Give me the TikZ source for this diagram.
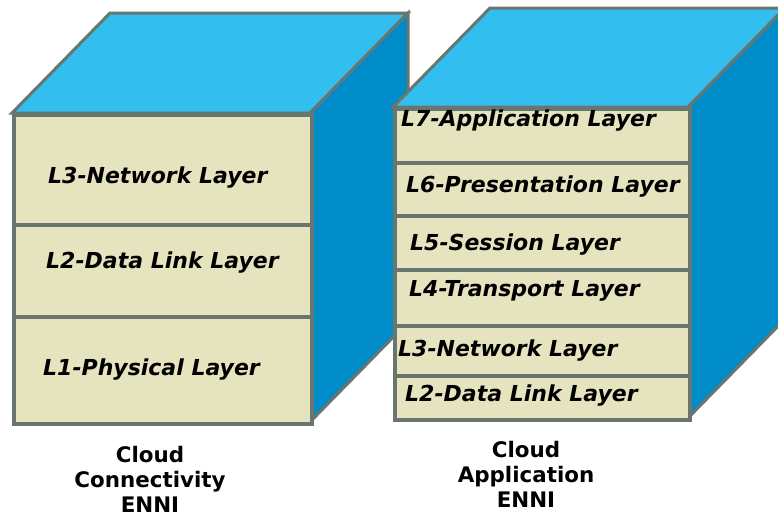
\documentclass[tikz,border=0pt]{standalone}
\usepackage{fontspec}
\setmainfont{DejaVu Sans}
\usetikzlibrary{positioning}
\definecolor{topblue}{RGB}{51,190,240}
\definecolor{sideblue}{RGB}{0,140,200}
\definecolor{layerfill}{RGB}{230,228,190}
\definecolor{edgegray}{RGB}{105,118,112}
\tikzstyle{face} = [draw=edgegray,
line width=3pt,
line join=miter]
\tikzstyle{layer} = [rectangle,
anchor=north west,
draw=edgegray,
line width=3.5pt,
fill=layerfill]
\tikzstyle{ltext} = [anchor=west,
inner sep=0pt,
font=\fontsize{22}{24}\selectfont\bfseries\itshape]
\tikzstyle{caption} = [align=center,
inner sep=0pt,
font=\fontsize{21.4}{25}\selectfont\bfseries]

\begin{document}
\begin{tikzpicture}[x=1pt, y=-1pt]
\useasboundingbox (0,0) rectangle (778,517);

% left cube
\draw [face, fill=topblue] (12,113) -- (110,13) -- (408,13) -- (310,113) -- cycle;
\draw [face, fill=sideblue] (310,113) -- (408,13) -- (408,322) -- (310,422) -- cycle;

\node (cc_l3) [layer, minimum width=298pt, minimum height=110pt] at (12,113) {};
\node (cc_l2) [layer, minimum width=298pt, minimum height=92pt] at (12,223) {};
\node (cc_l1) [layer, minimum width=298pt, minimum height=107pt] at (12,315) {};

\node (cc_l3_txt) [ltext] at (48,178) {L3-Network Layer};
\node (cc_l2_txt) [ltext] at (46,263) {L2-Data Link Layer};
\node (cc_l1_txt) [ltext] at (43,370) {L1-Physical Layer};

% right cube
\draw [face, fill=topblue] (393,107) -- (490,8) -- (785,8) -- (688,107) -- cycle;
\draw [face, fill=sideblue] (688,107) -- (785,8) -- (785,319) -- (688,418) -- cycle;

\node (ca_l7) [layer, minimum width=295pt, minimum height=54pt] at (393,107) {};
\node (ca_l6) [layer, minimum width=295pt, minimum height=53pt] at (393,161) {};
\node (ca_l5) [layer, minimum width=295pt, minimum height=54pt] at (393,214) {};
\node (ca_l4) [layer, minimum width=295pt, minimum height=56pt] at (393,268) {};
\node (ca_l3) [layer, minimum width=295pt, minimum height=50pt] at (393,324) {};
\node (ca_l2) [layer, minimum width=295pt, minimum height=44pt] at (393,374) {};

\node (ca_l7_txt) [ltext] at (401,121) {L7-Application Layer};
\node (ca_l6_txt) [ltext] at (406,187) {L6-Presentation Layer};
\node (ca_l5_txt) [ltext] at (410,245) {L5-Session Layer};
\node (ca_l4_txt) [ltext] at (409,291) {L4-Transport Layer};
\node (ca_l3_txt) [ltext] at (398,351) {L3-Network Layer};
\node (ca_l2_txt) [ltext] at (405,396) {L2-Data Link Layer};

% captions
\node (cc_name) [caption] at (150,479) {Cloud\\Connectivity\\ENNI};
\node (ca_name) [caption] at (526,474) {Cloud\\Application\\ENNI};

\end{tikzpicture}
\end{document}
